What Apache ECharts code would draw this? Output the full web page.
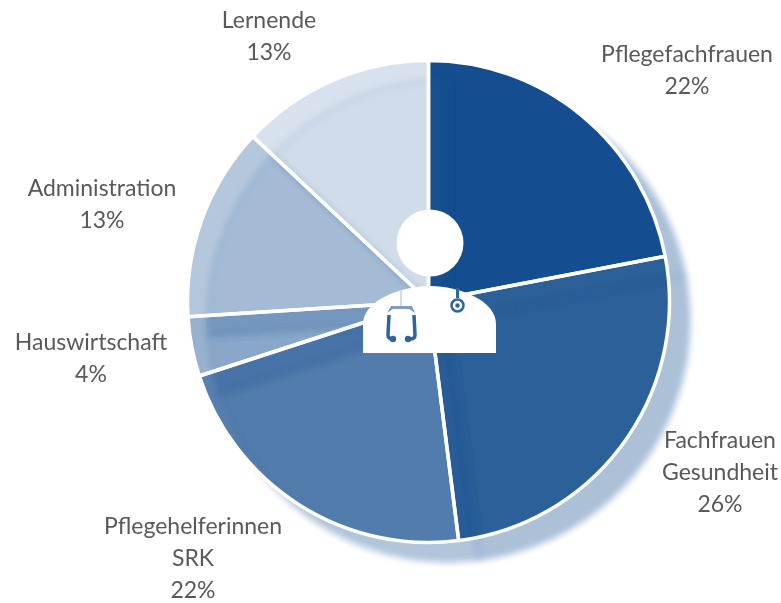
<!DOCTYPE html>
<html><head><meta charset="utf-8">
<style>html,body{margin:0;padding:0;background:#fff}#c{width:781px;height:603px}</style>
<script src="https://cdn.jsdelivr.net/npm/echarts@6/dist/echarts.min.js"></script></head>
<body><div id="c"></div>
<script>
const categories = ["Pflegefachfrauen","Fachfrauen\nGesundheit","Pflegehelferinnen\nSRK","Hauswirtschaft","Administration","Lernende"];
const shares = [22,26,22,4,13,13];
const sliceColors = ["rgba(21,78,144,1)","rgba(44,96,152,1)","rgba(75,118,169,.93)","rgba(125,157,195,.8)","rgba(155,180,208,.75)","rgba(212,223,236,.9)"];
const labelCentres = [[687,71],[720,473],[193,559],[91,359],[102,205],[269,37]];
const BLUE = "#2f659f";
const G = echarts.graphic;
G.registerShape('iconBody', G.extendPath('M363 353 L363 324 C363 301 400 286 430 286 C460 286 496 301 496 324 L496 353 Z'));
G.registerShape('iconTubes', G.extendPath('M389 315 L388 335 Q388 339 393 339 M414 315 L415 335 Q415 339 410 339'));
G.registerShape('iconNeck', G.extendPath('M387 313 L391 306 L412 306 L415 313 L409 309 L393 309 Z'));
const pieBase = {type:'pie',center:[428.5,301.5],radius:[0,241],startAngle:90,clockwise:true,emphasis:{disabled:true},silent:true,labelLine:{show:false}};
const chart = echarts.init(document.getElementById('c'),null,{renderer:'canvas'});
chart.setOption({
  animation:false,
  series:[
  {...pieBase,
    data:categories.map((n,i)=>({name:n,value:shares[i],itemStyle:{color:sliceColors[i]}})),
    itemStyle:{borderWidth:0,shadowColor:'rgba(30,85,150,.37)',shadowBlur:6,shadowOffsetX:20,shadowOffsetY:19},
    label:{show:true,position:'inside',formatter:'{b}\n{d}%',fontFamily:'Lato',fontSize:23,lineHeight:32,color:'#595959',align:'center'},
    labelLayout:p=>{const c=labelCentres[p.dataIndex];return {x:c[0],y:c[1],align:'center',verticalAlign:'middle'};}
  },
  {...pieBase,z:3,
    data:categories.map((n,i)=>({name:n,value:shares[i]})),
    itemStyle:{color:'rgba(0,0,0,0)',borderColor:'#fff',borderWidth:3.5,shadowColor:'rgba(30,85,150,.12)',shadowBlur:6,shadowOffsetX:20,shadowOffsetY:19},
    label:{show:false}
  }],
  graphic:[
    {type:'circle',z:10,shape:{cx:430,cy:243,r:33.5},style:{fill:'#fff'}},
    {type:'iconBody',z:10,style:{fill:'#fff'}},
    {type:'iconTubes',z:11,style:{fill:'none',stroke:BLUE,lineWidth:3.5}},
    {type:'iconNeck',z:11,style:{fill:'#7f9ec3'}},
    {type:'rect',z:11,shape:{x:400,y:290,width:2,height:16},style:{fill:'#d0dcea'}},
    {type:'circle',z:11,shape:{cx:393,cy:339,r:3.2},style:{fill:BLUE}},
    {type:'circle',z:11,shape:{cx:408,cy:339,r:3.2},style:{fill:BLUE}},
    {type:'rect',z:11,shape:{x:456,y:288,width:3,height:10},style:{fill:BLUE}},
    {type:'circle',z:11,shape:{cx:457.5,cy:305.5,r:6},style:{fill:'#fff',stroke:BLUE,lineWidth:2.5}},
    {type:'circle',z:11,shape:{cx:457.5,cy:305.5,r:2.2},style:{fill:BLUE}}
  ]
});
</script></body></html>
